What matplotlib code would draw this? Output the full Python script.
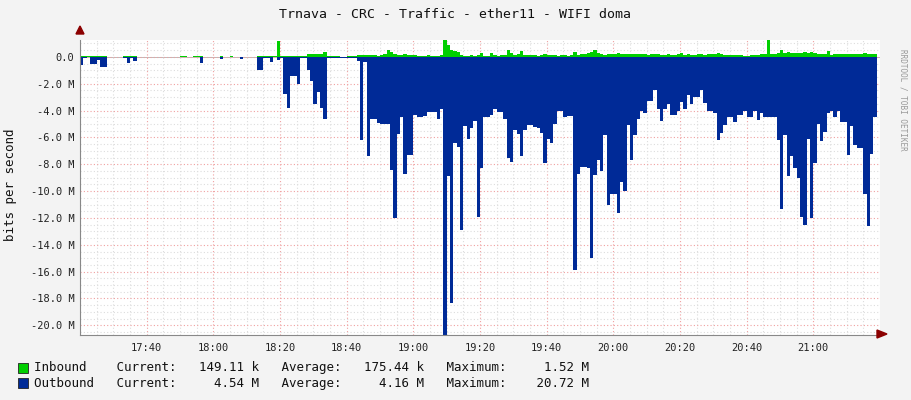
import numpy as np
import matplotlib
matplotlib.use("Agg")
import matplotlib.pyplot as plt
from matplotlib.ticker import MultipleLocator, FuncFormatter

# one sample per minute, starting 17:20, values in M bits/s (nan = no data)
nan = np.nan
outbound = [
    -0.6, -0.05, 0.0, -0.5, -0.5, -0.2, -0.75, -0.75, -0.1, nan,
    nan, nan, nan, -0.05, -0.45, -0.05, -0.3, -0.05, nan, nan,
    nan, nan, nan, nan, nan, nan, nan, nan, -0.02, -0.02,
    -0.02, -0.02, -0.02, nan, -0.02, -0.02, -0.45, -0.02, nan, -0.02,
    nan, nan, -0.15, -0.02, -0.02, -0.02, -0.02, nan, -0.15, -0.15,
    nan, nan, nan, -1.0, -1.0, -0.05, -0.05, -0.4, -0.02, -0.2,
    -0.05, -2.8, -3.8, -1.4, -1.4, -2.0, -0.05, -0.05, -1.0, -1.8,
    -3.5, -2.6, -3.8, -4.6, -0.05, -0.05, -0.05, -0.05, -0.05, -0.05,
    -0.05, -0.05, -0.05, -0.3, -6.2, -0.4, -7.4, -4.65, -4.65, -4.9,
    -5.0, -5.0, -5.0, -8.4, -12.0, -5.75, -4.5, -8.7, -7.3, -7.3,
    -4.35, -4.5, -4.5, -4.4, -4.1, -4.1, -4.1, -4.6, -3.9, -20.7,
    -8.85, -18.3, -6.45, -6.7, -12.9, -5.15, -6.1, -5.3, -4.8, -11.9,
    -8.3, -4.5, -4.5, -4.35, -3.9, -4.1, -4.1, -4.6, -7.5, -7.8,
    -5.45, -5.75, -7.4, -5.45, -5.1, -5.1, -5.2, -5.3, -5.65, -7.9,
    -6.1, -6.45, -5.0, -4.0, -4.0, -4.5, -4.4, -4.4, -15.9, -8.7,
    -8.2, -8.2, -8.3, -15.0, -8.8, -7.7, -8.5, -5.8, -11.0, -10.2,
    -10.2, -11.6, -9.3, -10.0, -5.1, -7.7, -5.8, -4.6, -4.0, -4.2,
    -3.3, -3.3, -2.5, -3.9, -4.75, -3.9, -3.5, -4.35, -4.35, -4.0,
    -3.35, -3.9, -2.85, -3.5, -3.0, -3.0, -2.5, -3.4, -4.0, -4.0,
    -4.2, -6.2, -5.7, -5.1, -4.45, -4.45, -4.85, -4.35, -4.35, -4.0,
    -4.5, -4.5, -4.0, -4.7, -4.2, -4.45, -4.45, -4.5, -4.5, -6.2,
    -11.3, -5.8, -8.85, -7.4, -8.3, -9.0, -11.9, -12.5, -6.1, -12.0,
    -7.9, -5.0, -6.3, -5.6, -4.2, -4.0, -4.45, -4.0, -4.85, -4.85,
    -7.3, -5.15, -6.55, -6.8, -6.8, -10.2, -12.6, -7.2, -4.5,
]
inbound = [
    0.05, 0.05, 0.05, 0.05, 0.05, 0.05, 0.05, 0.05, 0.05, nan,
    nan, nan, nan, 0.05, 0.05, 0.05, 0.05, 0.05, nan, nan,
    nan, nan, nan, nan, nan, nan, nan, nan, 0.03, 0.03,
    0.05, 0.05, 0.03, nan, 0.05, 0.08, 0.1, 0.05, nan, 0.05,
    nan, nan, 0.05, 0.03, 0.03, 0.05, 0.05, nan, 0.03, 0.03,
    nan, nan, nan, 0.05, 0.05, 0.05, 0.05, 0.1, 0.05, 1.15,
    0.1, 0.1, 0.08, 0.08, 0.1, 0.08, 0.05, 0.05, 0.25, 0.25,
    0.2, 0.25, 0.25, 0.35, 0.05, 0.05, 0.05, 0.05, 0.03, 0.03,
    0.05, 0.05, 0.05, 0.15, 0.15, 0.12, 0.15, 0.12, 0.12, 0.1,
    0.12, 0.2, 0.5, 0.4, 0.2, 0.12, 0.15, 0.25, 0.15, 0.12,
    0.12, 0.1, 0.1, 0.1, 0.12, 0.1, 0.08, 0.1, 0.12, 1.36,
    0.87, 0.5, 0.45, 0.37, 0.12, 0.1, 0.1, 0.12, 0.1, 0.12,
    0.3, 0.1, 0.1, 0.3, 0.15, 0.1, 0.12, 0.15, 0.55, 0.3,
    0.15, 0.2, 0.45, 0.15, 0.12, 0.12, 0.12, 0.1, 0.15, 0.2,
    0.15, 0.12, 0.12, 0.1, 0.12, 0.12, 0.1, 0.12, 0.35, 0.15,
    0.2, 0.25, 0.3, 0.4, 0.55, 0.3, 0.2, 0.15, 0.25, 0.2,
    0.25, 0.3, 0.25, 0.25, 0.2, 0.25, 0.2, 0.25, 0.2, 0.2,
    0.15, 0.2, 0.2, 0.2, 0.15, 0.15, 0.2, 0.15, 0.15, 0.2,
    0.3, 0.15, 0.2, 0.15, 0.15, 0.2, 0.2, 0.15, 0.2, 0.2,
    0.2, 0.3, 0.25, 0.15, 0.15, 0.15, 0.12, 0.15, 0.12, 0.1,
    0.1, 0.15, 0.15, 0.15, 0.2, 0.25, 1.52, 0.25, 0.2, 0.3,
    0.5, 0.3, 0.35, 0.3, 0.3, 0.3, 0.3, 0.35, 0.3, 0.4,
    0.3, 0.25, 0.2, 0.2, 0.45, 0.15, 0.2, 0.2, 0.25, 0.2,
    0.25, 0.2, 0.2, 0.2, 0.25, 0.3, 0.25, 0.2, 0.2,
]
time_labels = ["17:40", "18:00", "18:20", "18:40", "19:00", "19:20",
               "19:40", "20:00", "20:20", "20:40", "21:00"]
legend_rows = [
    ("#00CF00", "Inbound    Current:   149.11 k   Average:   175.44 k   Maximum:     1.52 M"),
    ("#002A97", "Outbound   Current:     4.54 M   Average:     4.16 M   Maximum:    20.72 M"),
]

mono = "DejaVu Sans Mono"
fig = plt.figure(figsize=(9.11, 4.0), dpi=100, facecolor="#F3F3F3")
W, H = 911, 400
ax = fig.add_axes([80 / W, (H - 335) / H, 800 / W, 295 / H], facecolor="white")

out = np.array(outbound)
inb = np.array(inbound)
t = np.arange(len(out) + 1)
out_s = np.append(out, out[-1])
inb_s = np.append(inb, inb[-1])
ax.fill_between(t, 0, out_s, step="post", color="#002A97", lw=0)
ax.fill_between(t, 0, inb_s, step="post", color="#00CF00", lw=0)

ax.set_xlim(0, 240)
ax.set_ylim(-20.72, 1.26)

ax.xaxis.set_major_locator(MultipleLocator(20))
ax.xaxis.set_minor_locator(MultipleLocator(5))
ax.yaxis.set_major_locator(MultipleLocator(2))
ax.yaxis.set_minor_locator(MultipleLocator(0.5))
ax.grid(which="minor", color="#DDDDDD", ls=(0, (1, 2)), lw=0.8)
ax.grid(which="major", color="#F0A0A0", ls=(0, (1, 2)), lw=0.8)
ax.set_axisbelow(True)

ax.set_xticks([20 + 20 * i for i in range(len(time_labels))])
ax.set_xticklabels(time_labels, fontfamily=mono, fontsize=7.5)
ax.yaxis.set_major_formatter(FuncFormatter(
    lambda v, p: "0.0" if abs(v) < 1e-9 else f"{v:.1f} M"))
for lab in ax.get_yticklabels():
    lab.set_fontfamily(mono)
ax.tick_params(which="both", length=0, labelsize=7.5, colors="#222222")
ax.tick_params(axis="x", pad=6)
ax.tick_params(axis="y", pad=4)

for s in ["top", "right"]:
    ax.spines[s].set_visible(False)
ax.spines["left"].set_color("#888888")
ax.spines["bottom"].set_color("#888888")
ax.axhline(0, color="#888888", lw=0.4, zorder=0)

# axis arrows
fig.patches.append(plt.Polygon([[877 / W, 62 / H], [877 / W, 70 / H], [887 / W, 66 / H]],
                               closed=True, color="#8B0000", transform=fig.transFigure))
fig.patches.append(plt.Polygon([[76 / W, 366 / H], [84 / W, 366 / H], [80 / W, 374 / H]],
                               closed=True, color="#8B0000", transform=fig.transFigure))

fig.text(455 / W, 1 - 14 / H, "Trnava - CRC - Traffic - ether11 - WIFI doma",
         ha="center", va="center", fontfamily=mono, fontsize=9.5, color="#111111")
fig.text(11 / W, 1 - 185 / H, "bits per second", rotation=90, ha="center",
         va="center", fontfamily=mono, fontsize=9, color="#111111")
fig.text(903 / W, 1 - 100 / H, "RRDTOOL / TOBI OETIKER", rotation=270, ha="center",
         va="center", fontfamily=mono, fontsize=5.5, color="#999999")

for i, (col, txt) in enumerate(legend_rows):
    y = 1 - (368 + 15 * i) / H
    fig.patches.append(plt.Rectangle((18 / W, y - 5 / H), 10 / W, 10 / H, facecolor=col,
                                     edgecolor="#222222", lw=0.6, transform=fig.transFigure))
    fig.text(34 / W, y, txt, ha="left", va="center", fontfamily=mono,
             fontsize=9, color="#111111")

fig.savefig("out.png", dpi=100, facecolor=fig.get_facecolor())
